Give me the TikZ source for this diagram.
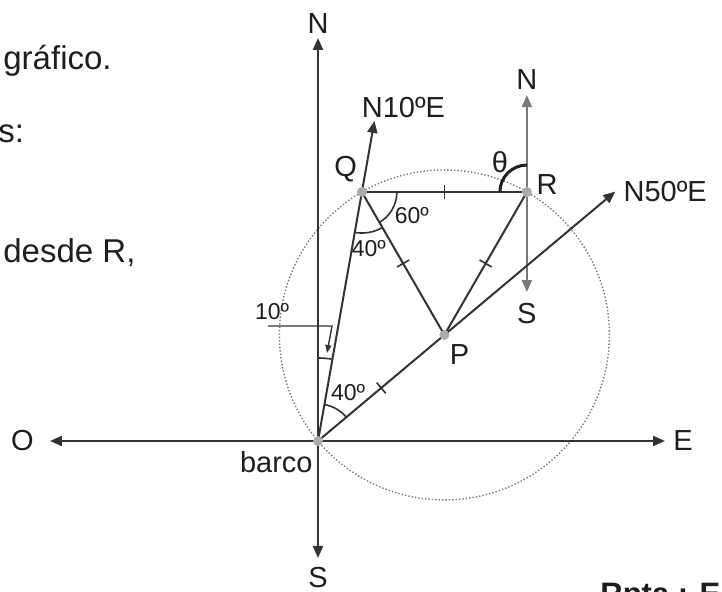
\documentclass[tikz,border=0pt]{standalone}
\usepackage{fontspec}
\setmainfont{Liberation Sans}
\usetikzlibrary{arrows.meta,positioning,calc}

\definecolor{linegray}{HTML}{333333}
\definecolor{softgray}{HTML}{7A7A7A}
\definecolor{dotgray}{HTML}{ABABAB}
\definecolor{inkgray}{HTML}{1E1E1E}

\begin{document}
\begin{tikzpicture}[
    x=0.5pt, y=0.5pt,
    axis/.style={draw=linegray, line width=1.1pt, {Triangle[length=6pt, width=5pt]}-{Triangle[length=6pt, width=5pt]}},
    ray/.style={draw=linegray, line width=1pt, -{Triangle[length=6pt, width=5pt]}},
    raxis/.style={axis, draw=softgray},
    seg/.style={draw=linegray, line width=1pt},
    tick/.style={draw=linegray, line width=0.8pt, minimum width=0pt, minimum height=7pt, inner sep=0pt, sloped},
    anglearc/.style={draw=linegray, line width=0.8pt},
    thetaarc/.style={draw=inkgray, line width=1.5pt},
    leader/.style={draw=linegray, line width=0.7pt, -{Triangle[length=4pt, width=3pt]}},
    circ/.style={draw=softgray, line width=0.7pt, densely dotted},
    dot/.style={fill=dotgray},
    lab/.style={inner sep=0pt, text=inkgray, font=\fontsize{14.5}{17}\selectfont},
    anglab/.style={inner sep=0pt, text=inkgray, font=\fontsize{11.5}{13}\selectfont},
    pagetext/.style={inner sep=0pt, text=inkgray, anchor=base west, font=\fontsize{16.5}{19}\selectfont}
]
\useasboundingbox[fill=white] (-318,-151) rectangle (404,441);

% Points of the figure
\coordinate (B) at (0,0);
\coordinate (P) at (40:165);
\coordinate (Q) at ($(P)+(120:165)$);
\coordinate (R) at ($(P)+(60:165)$);

% Arrow ends
\coordinate (ntip) at (0,403);
\coordinate (stip) at (0,-117);
\coordinate (otip) at (-268,0);
\coordinate (etip) at (347,0);
\coordinate (n10tip) at (80:325);
\coordinate (n50tip) at (40:388);
\coordinate (rntip) at ($(R)+(0,97)$);
\coordinate (rstip) at ($(R)+(0,-100)$);

% Circle through B, Q and R
\draw[circ] (P) circle[radius=82.5pt];

% Compass axes
\draw[axis] (stip) -- (ntip);
\draw[axis] (otip) -- (etip);
\draw[raxis] (rstip) -- (rntip);

% Bearings
\draw[ray] (B) -- (n10tip);
\draw[ray] (B) -- (n50tip);
\path (B) -- (P) node[tick, midway] {};

% Triangle
\draw[seg] (Q) -- (R) node[tick, midway] {};
\draw[seg] (Q) -- (P) node[tick, midway] {};
\draw[seg] (R) -- (P) node[tick, midway] {};

% Angles
\draw[anglearc] ($(Q)+(0:17.5pt)$) arc[start angle=0, end angle=-60, radius=17.5pt];
\draw[anglearc] ($(Q)+(260:20.5pt)$) arc[start angle=260, end angle=300, radius=20.5pt];
\draw[anglearc] ($(B)+(40:18.5pt)$) arc[start angle=40, end angle=80, radius=18.5pt];
\draw[anglearc] ($(B)+(80:41.5pt)$) arc[start angle=80, end angle=90, radius=41.5pt];
\draw[thetaarc] ($(R)+(90:13.5pt)$) arc[start angle=90, end angle=180, radius=13.5pt];

\node[anglab] (a60) at ($(Q)+(50,-24)$) {60º};
\node[anglab] (a40q) at ($(Q)+(7,-57)$) {40º};
\node[anglab] (a40b) at ($(B)+(30,48)$) {40º};
\node[anglab] (a10) at ($(B)+(-46,129)$) {10º};
\node[lab] (theta) at ($(R)+(-27,30)$) {θ};

% Leader to the 10º angle
\coordinate (l1) at (-50,115);
\coordinate (l2) at (14,115);
\coordinate (l3) at (9,88);
\draw[leader] (l1) -- (l2) -- (l3);

% Points
\foreach \p in {B,P,Q,R}
    \fill[dot] (\p) circle[radius=2.5pt];

% Labels
\node[lab, above=2pt of ntip] (nlab) {N};
\node[lab, below=4.5pt of stip] (slab) {S};
\node[lab, left=8pt of otip] (olab) {O};
\node[lab, right=4pt of etip] (elab) {E};
\node[lab, above=1.5pt of n10tip, xshift=14.5pt] (n10lab) {N10ºE};
\node[lab, right=4pt of n50tip] (n50lab) {N50ºE};
\node[lab, above=2.5pt of rntip] (rnlab) {N};
\node[lab, below=5.5pt of rstip] (rslab) {S};
\node[lab, above left=4.8pt and 2.3pt of Q] (qlab) {Q};
\node[lab, right=4.6pt of R, yshift=4pt] (rlab) {R};
\node[lab, below right=4.8pt and 2.6pt of P] (plab) {P};
\node[lab, below left=5.2pt and 2.5pt of B] (blab) {barco};

% Page text
\node[pagetext] (t1) at (-315,371) {gráfico.};
\node[pagetext] (t2) at (-320,298) {s:};
\node[pagetext] (t3) at (-315,178) {desde R,};
\node[pagetext, font=\fontsize{15.5}{18}\selectfont\bfseries] (rpta) at (282,-164) {Rpta.: E};

\end{tikzpicture}
\end{document}
